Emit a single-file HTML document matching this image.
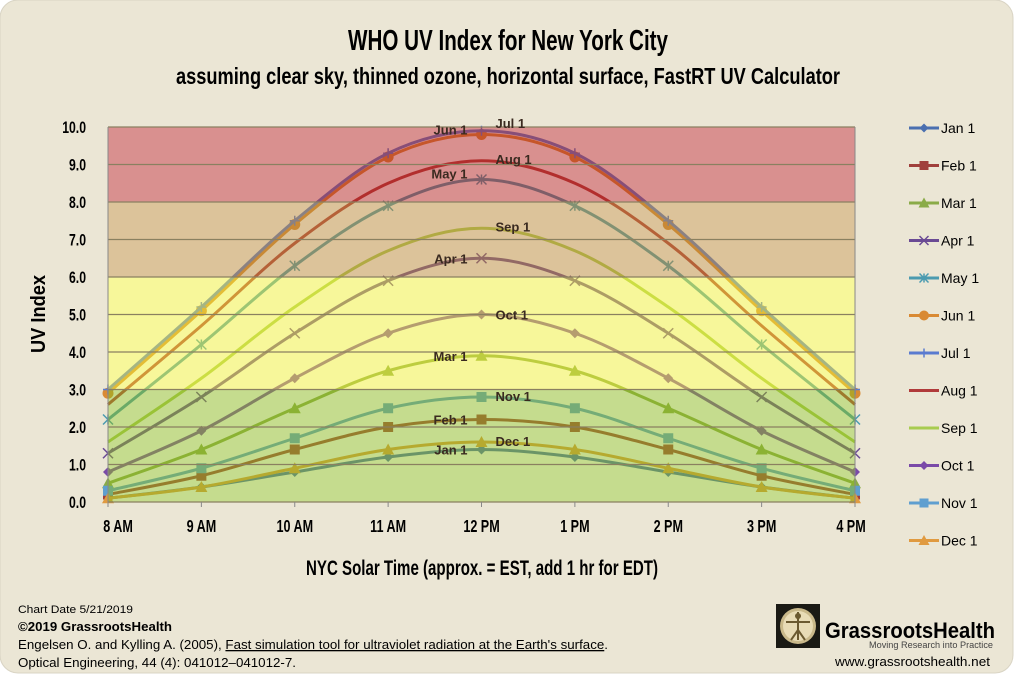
<!DOCTYPE html>
<html><head><meta charset="utf-8"><style>
html,body{margin:0;padding:0;background:#fff;}
svg{display:block;font-family:"Liberation Sans",sans-serif;}
</style></head><body>
<svg id="chart" width="1021" height="677" viewBox="0 0 1021 677" xmlns="http://www.w3.org/2000/svg">
<rect x="0" y="0" width="1013" height="673" rx="18" fill="#ebe6d5" stroke="#d9d4c4"/>
<text x="508" y="50" font-size="29" font-weight="bold" text-anchor="middle" textLength="320" lengthAdjust="spacingAndGlyphs">WHO UV Index for New York City</text>
<text x="508" y="84" font-size="23" font-weight="bold" text-anchor="middle" textLength="664" lengthAdjust="spacingAndGlyphs">assuming clear sky, thinned ozone, horizontal surface, FastRT UV Calculator</text>
<g id="plot"></g>
<text transform="translate(45,314) rotate(-90)" font-size="20" font-weight="bold" text-anchor="middle" textLength="78" lengthAdjust="spacingAndGlyphs">UV Index</text>
<text x="482" y="575" font-size="21" font-weight="bold" text-anchor="middle" textLength="352" lengthAdjust="spacingAndGlyphs">NYC Solar Time (approx. = EST, add 1 hr for EDT)</text>
<g id="legend"></g>
<g font-size="13">
<text x="18" y="613" font-size="11" textLength="115" lengthAdjust="spacingAndGlyphs">Chart Date 5/21/2019</text>
<text x="18" y="631" font-weight="bold" textLength="154" lengthAdjust="spacingAndGlyphs">©2019 GrassrootsHealth</text>
<text x="18" y="649" textLength="590" lengthAdjust="spacingAndGlyphs">Engelsen O. and Kylling A. (2005), <tspan text-decoration="underline">Fast simulation tool for ultraviolet radiation at the Earth's surface</tspan>.</text>
<text x="18" y="667" textLength="278" lengthAdjust="spacingAndGlyphs">Optical Engineering, 44 (4): 041012–041012-7.</text>
<rect x="776" y="604" width="44" height="44" fill="#1a1a14"/>
<circle cx="798" cy="626" r="18" fill="#c9b98a"/>
<circle cx="798" cy="626" r="15" fill="#e8dcb6"/>
<path d="M798 612v28M786 622h24M798 630l-7 10M798 630l7 10" stroke="#6b5a30" stroke-width="2" fill="none"/>
<circle cx="798" cy="616" r="3" fill="#6b5a30"/>
<text x="825" y="638" font-size="22" font-weight="bold" textLength="170" lengthAdjust="spacingAndGlyphs">GrassrootsHealth</text>
<text x="993" y="648" font-size="9" fill="#444" text-anchor="end" textLength="124" lengthAdjust="spacingAndGlyphs">Moving Research into Practice</text>
<text x="990" y="666" font-size="13" text-anchor="end" textLength="155" lengthAdjust="spacingAndGlyphs">www.grassrootshealth.net</text>
</g>
</svg>
<script>
const hours = ["8 AM","9 AM","10 AM","11 AM","12 PM","1 PM","2 PM","3 PM","4 PM"];
const yTicks = [0,1,2,3,4,5,6,7,8,9,10];
const seriesNames = ["Jan 1","Feb 1","Mar 1","Apr 1","May 1","Jun 1","Jul 1","Aug 1","Sep 1","Oct 1","Nov 1","Dec 1"];
const janVals = [0.1,0.4,0.8,1.2,1.4,1.2,0.8,0.4,0.1];
const febVals = [0.2,0.7,1.4,2.0,2.2,2.0,1.4,0.7,0.2];
const marVals = [0.5,1.4,2.5,3.5,3.9,3.5,2.5,1.4,0.5];
const aprVals = [1.3,2.8,4.5,5.9,6.5,5.9,4.5,2.8,1.3];
const mayVals = [2.2,4.2,6.3,7.9,8.6,7.9,6.3,4.2,2.2];
const junVals = [2.9,5.1,7.4,9.2,9.8,9.2,7.4,5.1,2.9];
const julVals = [3.0,5.2,7.5,9.3,9.9,9.3,7.5,5.2,3.0];
const augVals = [2.6,4.7,6.9,8.5,9.1,8.5,6.9,4.7,2.6];
const sepVals = [1.6,3.3,5.2,6.7,7.3,6.7,5.2,3.3,1.6];
const octVals = [0.8,1.9,3.3,4.5,5.0,4.5,3.3,1.9,0.8];
const novVals = [0.3,0.9,1.7,2.5,2.8,2.5,1.7,0.9,0.3];
const decVals = [0.1,0.4,0.9,1.4,1.6,1.4,0.9,0.4,0.1];
const bandLows = [0,3,6,8];
const bandHighs = [3,6,8,10];

const allVals=[janVals,febVals,marVals,aprVals,mayVals,junVals,julVals,augVals,sepVals,octVals,novVals,decVals];
const colors=["#4a6fb0","#a0403c","#8aab48","#6a4a94","#4b9bb0","#d98a34","#5a7bd0","#b03a3a","#a8cc50","#7a4aa8","#5f9fd0","#e09a40"];
const markers=["diamond","square","triangle","x","star","circle","plus","none","none","diamond","square","triangle"];
const bandFill=["rgb(139,185,29)","rgb(239,239,53)","rgb(185,135,53)","rgb(179,33,31)"];
const NS="http://www.w3.org/2000/svg";
const X0=108,X1=855,Y0=502,Y1=127;
function xs(i){return X0+(X1-X0)*i/(hours.length-1);}
function ys(v){return Y0-(Y0-Y1)*v/10;}
function mk(t,a,p){const e=document.createElementNS(NS,t);for(const k in a)e.setAttribute(k,a[k]);(p||plot).appendChild(e);return e;}
const plot=document.getElementById('plot');
const legend=document.getElementById('legend');
let bg=mk('rect',{x:X0,y:Y1,width:X1-X0,height:Y0-Y1,fill:'#fff'});


function smooth(pts){let d=`M${pts[0][0]},${pts[0][1]}`;for(let i=0;i<pts.length-1;i++){const p0=pts[Math.max(0,i-1)],p1=pts[i],p2=pts[i+1],p3=pts[Math.min(pts.length-1,i+2)];const c1=[p1[0]+(p2[0]-p0[0])/6,p1[1]+(p2[1]-p0[1])/6],c2=[p2[0]-(p3[0]-p1[0])/6,p2[1]-(p3[1]-p1[1])/6];d+=`C${c1[0]},${c1[1]} ${c2[0]},${c2[1]} ${p2[0]},${p2[1]}`;}return d;}
function marker(type,x,y,c,g,s){s=s||5;
 if(type==='diamond')mk('path',{d:`M${x},${y-s}L${x+s},${y}L${x},${y+s}L${x-s},${y}Z`,fill:c},g);
 else if(type==='square')mk('rect',{x:x-s,y:y-s,width:2*s,height:2*s,fill:c},g);
 else if(type==='triangle')mk('path',{d:`M${x},${y-s-1}L${x+s+1},${y+s}L${x-s-1},${y+s}Z`,fill:c},g);
 else if(type==='circle')mk('circle',{cx:x,cy:y,r:s+0.5,fill:c},g);
 else if(type==='x')mk('path',{d:`M${x-s},${y-s}L${x+s},${y+s}M${x+s},${y-s}L${x-s},${y+s}`,stroke:c,'stroke-width':1.5},g);
 else if(type==='star')mk('path',{d:`M${x-s},${y-s}L${x+s},${y+s}M${x+s},${y-s}L${x-s},${y+s}M${x},${y-s}L${x},${y+s}`,stroke:c,'stroke-width':1.5},g);
 else if(type==='plus')mk('path',{d:`M${x-s},${y}L${x+s},${y}M${x},${y-s}L${x},${y+s}`,stroke:c,'stroke-width':1.5},g);
}
allVals.forEach((vals,si)=>{
 const g=mk('g',{});
 
 
 const pts=vals.map((v,i)=>[xs(i),ys(v)]);
 mk('path',{d:smooth(pts),fill:'none',stroke:colors[si],'stroke-width':3},g);
 pts.forEach(p=>marker(markers[si],p[0],p[1],colors[si],g));
});
bandLows.forEach((lo,i)=>{
 const r=mk('rect',{x:X0,y:ys(bandHighs[i]),width:X1-X0,height:ys(lo)-ys(bandHighs[i]),fill:bandFill[i],'fill-opacity':0.5});
 
 
});
yTicks.forEach(t=>{
 const l=mk('line',{x1:X0,x2:X1,y1:ys(t),y2:ys(t),stroke:'#8a8060','stroke-width':1.2});
 
 
 const tx=mk('text',{transform:`translate(${X0-22},${ys(t)+6}) scale(0.72,1)`,'font-size':17,'font-weight':'bold','text-anchor':'end'});
 tx.textContent=t.toFixed(1);
 
 
});
mk('line',{x1:X0,x2:X0,y1:Y1,y2:Y0,stroke:'#888','stroke-width':1});
mk('line',{x1:X1,x2:X1,y1:Y1,y2:Y0,stroke:'#888','stroke-width':1});
hours.forEach((h,i)=>{
 mk('line',{x1:xs(i),x2:xs(i),y1:Y0,y2:Y0+5,stroke:'#888'});
 const tx=mk('text',{transform:`translate(${xs(i)+(i===0?10:i===8?-4:0)},${Y0+30}) scale(0.7,1)`,'font-size':18,'font-weight':'bold','text-anchor':'middle'});
 tx.textContent=h;
 
 
});
const labelSide=["L","L","L","L","L","L","R","R","R","R","R","R"];
const labelDy=[5,5,5,5,-1,0,-3,3,3,5,4,4];
allVals.forEach((vals,si)=>{
 const v=vals[4];const left=labelSide[si]==="L";
 const tx=mk('text',{x:left?xs(4)-14:xs(4)+14,y:ys(v)+labelDy[si],'font-size':13,'font-weight':'bold','text-anchor':left?'end':'start',fill:'#3a2a20'});
 tx.textContent=seriesNames[si];
 
 
});
seriesNames.forEach((n,si)=>{
 const y=128+si*37.5;
 const g=mk('g',{},legend);
 
 
 mk('line',{x1:909,x2:939,y1:y,y2:y,stroke:colors[si],'stroke-width':3},g);
 marker(markers[si],924,y,colors[si],g,4.5);
 const t=mk('text',{x:941,y:y+5,'font-size':14},g);
 t.textContent=n;
});
</script>
</body></html>
